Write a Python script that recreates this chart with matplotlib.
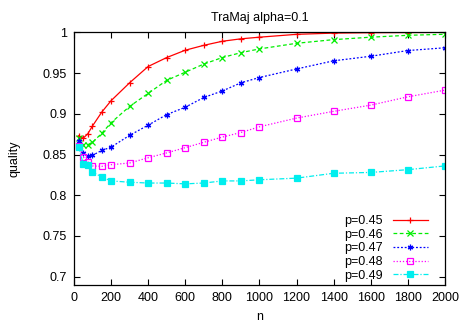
import matplotlib
matplotlib.use('Agg')
import matplotlib.pyplot as plt

plt.rcParams['font.family'] = ['Liberation Sans', 'DejaVu Sans']

n = [25, 50, 75, 100, 150, 200, 300, 400, 500, 600, 700, 800, 900, 1000,
     1200, 1400, 1600, 1800, 2000]

q45 = [0.873, 0.870, 0.8755, 0.885, 0.902, 0.916, 0.938, 0.958, 0.969, 0.978,
       0.984, 0.989, 0.992, 0.994, 0.9975, 0.999, 0.9995, 0.9997, 0.9999]
q46 = [0.8706, 0.862, 0.862, 0.865, 0.876, 0.889, 0.909, 0.925, 0.941, 0.951,
       0.961, 0.969, 0.975, 0.9796, 0.9865, 0.991, 0.994, 0.9963, 0.9976]
q47 = [0.8665, 0.852, 0.848, 0.849, 0.855, 0.859, 0.8735, 0.886, 0.899, 0.908,
       0.920, 0.928, 0.938, 0.9445, 0.955, 0.965, 0.9706, 0.9776, 0.981]
q48 = [0.861, 0.847, 0.841, 0.836, 0.8355, 0.8375, 0.8396, 0.846, 0.852, 0.8584,
       0.865, 0.8714, 0.877, 0.884, 0.8947, 0.903, 0.9106, 0.9208, 0.929]
q49 = [0.8596, 0.8384, 0.8367, 0.8286, 0.8224, 0.8176, 0.816, 0.815, 0.815, 0.814,
       0.815, 0.8176, 0.8176, 0.819, 0.821, 0.827, 0.828, 0.8314, 0.836]

labels = ['p=0.45', 'p=0.46', 'p=0.47', 'p=0.48', 'p=0.49']
series = [q45, q46, q47, q48, q49]
colors = ['#ff0000', '#00ee00', '#0000ff', '#ff00ff', '#00eeee']
markers = ['+', 'x', (6, 2, 0), 's', 's']
styles = ['-', (0, (3, 2)), (0, (1.5, 1.5)), (0, (1, 1.5)), (0, (4, 1.5, 1, 1.5))]
fills = ['full', 'full', 'full', 'none', 'full']

fig = plt.figure(figsize=(4.62, 3.23), dpi=100)
ax = fig.add_axes([0.160, 0.118, 0.803, 0.782])

for q, lab, c, m, ls, f in zip(series, labels, colors, markers, styles, fills):
    ax.plot(n, q, color=c, marker=m, linestyle=ls, linewidth=0.9,
            markersize=4, markeredgewidth=0.9, fillstyle=f, label=lab)

ax.set_xlim(0, 2000)
ax.set_ylim(0.69, 1.0)
ax.set_xticks(range(0, 2001, 200))
ax.set_yticks([0.7, 0.75, 0.8, 0.85, 0.9, 0.95, 1.0])
ax.set_yticklabels(['0.7', '0.75', '0.8', '0.85', '0.9', '0.95', '1'])
ax.tick_params(direction='in', top=True, right=True, labelsize=9, length=4,
               width=0.8, pad=5)
for s in ax.spines.values():
    s.set_linewidth(0.9)

ax.set_title('TraMaj alpha=0.1', fontsize=9, pad=8)
ax.set_xlabel('n', fontsize=9, labelpad=5)
ax.set_ylabel('quality', fontsize=9, labelpad=16)

ax.legend(loc='lower right', frameon=False, markerfirst=False, numpoints=1,
          fontsize=9, handlelength=2.8, labelspacing=0.13, handletextpad=0.8,
          borderaxespad=0.1, bbox_to_anchor=(0.97, -0.012))

fig.savefig('out.png', dpi=100)
